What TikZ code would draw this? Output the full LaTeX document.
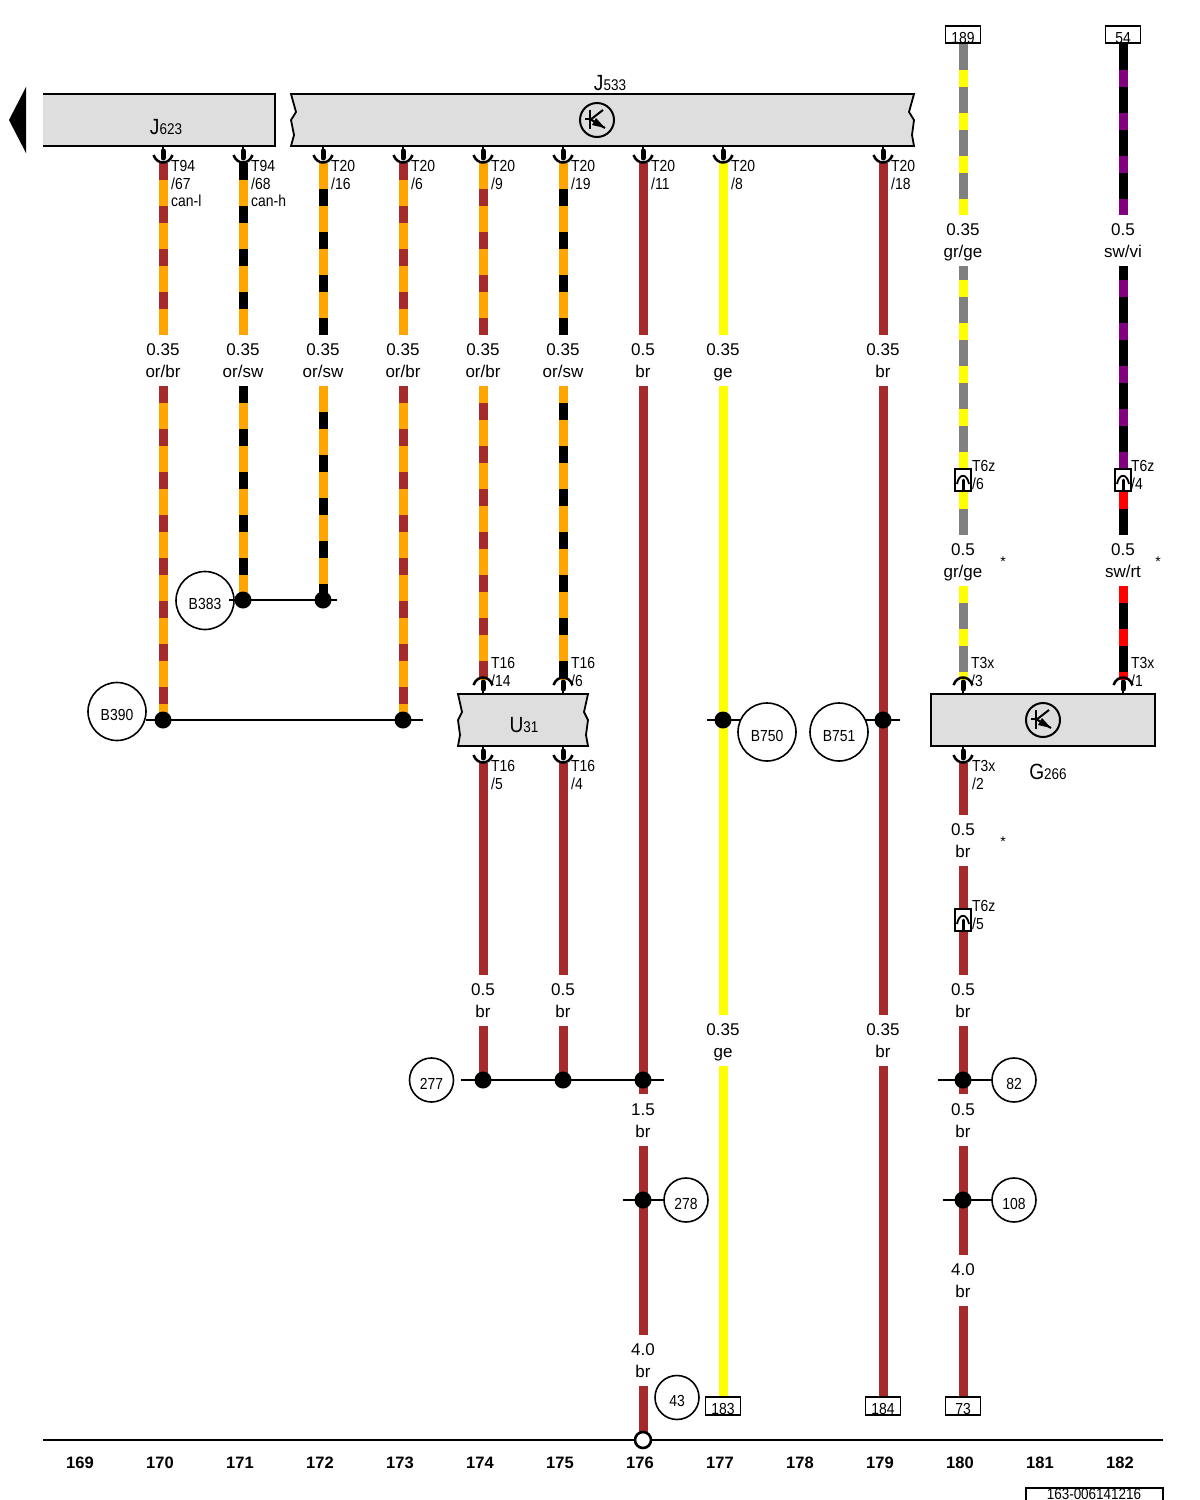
\documentclass[tikz,border=0pt]{standalone}
\usepackage{fontspec}
\setmainfont{Liberation Sans}
\newfontfamily\narrowfont[FakeStretch=0.87]{Liberation Sans}
\definecolor{wireor}{HTML}{FFA500}
\definecolor{wirebr}{HTML}{A52A2A}
\definecolor{wirege}{HTML}{FFFF00}
\definecolor{wiregr}{HTML}{808080}
\definecolor{wirevi}{HTML}{800080}
\definecolor{wirert}{HTML}{FF0000}
\definecolor{boxgray}{HTML}{DEDEDE}
\newcommand{\wl}[2]{\rule{0pt}{18pt}#1\\#2\rule[-6pt]{0pt}{6pt}}
\tikzset{
  wire/.style={line width=9pt},
  orbr/.style={wire, draw=wirebr, dash pattern=on 17pt off 26pt, preaction={wire, draw=wireor, solid}},
  orsw/.style={wire, draw=black, dash pattern=on 17pt off 26pt, preaction={wire, draw=wireor, solid}},
  grge/.style={wire, draw=wirege, dash pattern=on 17pt off 26pt, preaction={wire, draw=wiregr, solid}},
  swvi/.style={wire, draw=wirevi, dash pattern=on 17pt off 26pt, preaction={wire, draw=black, solid}},
  swrt/.style={wire, draw=wirert, dash pattern=on 17pt off 26pt, preaction={wire, draw=black, solid}},
  wirelabel/.style={inner sep=0pt, minimum width=40pt, minimum height=51pt, align=center, font=\fontsize{17}{22}\selectfont},
  pinlabel/.style={inner sep=0pt, anchor=north west, align=left, font=\narrowfont\fontsize{16}{17.3}\selectfont},
  boxlabel/.style={inner sep=0pt, font=\narrowfont\fontsize{22}{22}\selectfont},
  dotnode/.style={circle, fill=black, inner sep=0pt, minimum size=17pt},
  pointer/.style={circle, draw, line width=1.6pt, inner sep=0pt, text height=18.5pt, text depth=0pt, font=\narrowfont\fontsize{16}{16}\selectfont},
  bigpointer/.style={pointer, minimum size=58pt},
  smallpointer/.style={pointer, minimum size=44pt},
  endbox/.style={draw, line width=1.8pt, fill=white, inner xsep=0pt, inner ysep=0pt, minimum width=35pt, text height=17.5pt, text depth=0pt, font=\narrowfont\fontsize{16}{16}\selectfont},
  plugbox/.style={draw, line width=1.8pt, fill=white, inner sep=0pt, minimum width=16pt, minimum height=22pt},
  colnum/.style={inner sep=0pt, font=\bfseries\fontsize{16.5}{16.5}\selectfont},
  starmark/.style={inner sep=0pt, font=\fontsize{14}{14}\selectfont},
  stub/.style={line width=1.6pt},
  ecuframe/.style={line width=1.8pt, fill=boxgray},
  pin/.pic={
    \draw[line width=1.5pt] (0,0) -- (0,4);
    \draw[line width=5pt, line cap=round] (0,5) -- (0,12);
    \draw[line width=2.5pt] (-9.5,9) .. controls (-6,19) and (6,19) .. (9.5,9);
  },
  plugpin/.pic={
    \draw[line width=3pt, line cap=round] (0,-11) -- (0,-1);
    \draw[line width=1.8pt] (-6,-7) .. controls (-4,-18) and (4,-18) .. (6,-7);
  },
  sensor/.pic={
    \draw[line width=2pt] (0,0) circle (17);
    \draw[line width=2pt] (-7,-10) -- (-7,9);
    \draw[line width=2pt] (-12,-1) -- (-7,-1);
    \draw[line width=2pt] (-7,0) -- (6,-10);
    \draw[line width=2pt] (-7,-1) -- (8,8);
    \fill (8,8) -- (-5,5) -- (-1,-2) -- cycle;
  },
}
\begin{document}
\begin{tikzpicture}[x=1pt, y=-1pt]
\useasboundingbox (0,0) rectangle (1200,1500);
% control units
\fill[black] (9,120) -- (26,87) -- (26,153) -- cycle;
\fill[boxgray] (43,94) rectangle (275,146);
\draw[line width=1.8pt] (43,94) -- (275,94) -- (275,146) -- (43,146);
\draw[ecuframe] (291,94) -- (914,94) -- (909,112) -- (914,120) -- (912,135) -- (914,146) -- (291,146) -- (294,135) -- (291,120) -- (296,112) -- cycle;
\draw[ecuframe] (458,694) -- (588,694) -- (584,712) -- (588,720) -- (586,735) -- (588,746) -- (458,746) -- (460,735) -- (458,720) -- (462,712) -- cycle;
\draw[ecuframe] (931,694) rectangle (1155,746);
\node[boxlabel] (j623) at (166,127) {J{\fontsize{15.5}{15.5}\selectfont 623}};
\node[boxlabel] (j533) at (610,83) {J{\fontsize{15.5}{15.5}\selectfont 533}};
\node[boxlabel] (u31) at (524,725) {U{\fontsize{15.5}{15.5}\selectfont 31}};
\node[boxlabel] (g266) at (1048,772) {G{\fontsize{15.5}{15.5}\selectfont 266}};
\pic at (597,120) {sensor};
\pic at (1043,720) {sensor};
% wire colour and size labels
\node[wirelabel] (l170) at (163,360.5) {\wl{0.35}{or/br}};
\node[wirelabel] (l171) at (243,360.5) {\wl{0.35}{or/sw}};
\node[wirelabel] (l172) at (323,360.5) {\wl{0.35}{or/sw}};
\node[wirelabel] (l173) at (403,360.5) {\wl{0.35}{or/br}};
\node[wirelabel] (l174) at (483,360.5) {\wl{0.35}{or/br}};
\node[wirelabel] (l175) at (563,360.5) {\wl{0.35}{or/sw}};
\node[wirelabel] (l176) at (643,360.5) {\wl{0.5}{br}};
\node[wirelabel] (l177) at (723,360.5) {\wl{0.35}{ge}};
\node[wirelabel] (l179) at (883,360.5) {\wl{0.35}{br}};
\node[wirelabel] (l174b) at (483,1000.5) {\wl{0.5}{br}};
\node[wirelabel] (l175b) at (563,1000.5) {\wl{0.5}{br}};
\node[wirelabel] (l176b) at (643,1120.5) {\wl{1.5}{br}};
\node[wirelabel] (l176c) at (643,1360.5) {\wl{4.0}{br}};
\node[wirelabel] (l177b) at (723,1040.5) {\wl{0.35}{ge}};
\node[wirelabel] (l179b) at (883,1040.5) {\wl{0.35}{br}};
\node[wirelabel] (l180a) at (963,240.5) {\wl{0.35}{gr/ge}};
\node[wirelabel] (l180b) at (963,560.5) {\wl{0.5}{gr/ge}};
\node[wirelabel] (l180c) at (963,840.5) {\wl{0.5}{br}};
\node[wirelabel] (l180d) at (963,1000.5) {\wl{0.5}{br}};
\node[wirelabel] (l180e) at (963,1120.5) {\wl{0.5}{br}};
\node[wirelabel] (l180f) at (963,1280.5) {\wl{4.0}{br}};
\node[wirelabel] (l182a) at (1123,240.5) {\wl{0.5}{sw/vi}};
\node[wirelabel] (l182b) at (1123,560.5) {\wl{0.5}{sw/rt}};
% end boxes
\node[endbox] (e189) at (963,34.5) {189};
\node[endbox] (e54) at (1123,34.5) {54};
\node[endbox] (e183) at (723,1406) {183};
\node[endbox] (e184) at (883,1406) {184};
\node[endbox] (e73) at (963,1406) {73};
\node[plugbox] (s180a) at (963,480) {};
\node[plugbox] (s182a) at (1123,480) {};
\node[plugbox] (s180b) at (963,920) {};
% wire ends and junctions
\coordinate (t170) at (163,163);
\coordinate (t171) at (243,163);
\coordinate (t172) at (323,163);
\coordinate (t173) at (403,163);
\coordinate (t174) at (483,163);
\coordinate (t175) at (563,163);
\coordinate (t176) at (643,163);
\coordinate (t177) at (723,163);
\coordinate (t179) at (883,163);
\coordinate (u174) at (483,680);
\coordinate (u175) at (563,680);
\coordinate (u180) at (963,680);
\coordinate (u182) at (1123,680);
\coordinate (v174) at (483,763);
\coordinate (v175) at (563,763);
\coordinate (v180) at (963,763);
\coordinate (m176) at (643,1094);
\coordinate (m180) at (963,1094);
\coordinate (r383a) at (229,600);
\coordinate (r383b) at (337,600);
\coordinate (r390a) at (146,720);
\coordinate (r390b) at (423,720);
\coordinate (r750a) at (707,720);
\coordinate (r750b) at (741,720);
\coordinate (r751a) at (866,720);
\coordinate (r751b) at (900,720);
\coordinate (r277a) at (461,1080);
\coordinate (r277b) at (664,1080);
\coordinate (r278a) at (623,1200);
\coordinate (r278b) at (665,1200);
\coordinate (r82a) at (938,1080);
\coordinate (r82b) at (992,1080);
\coordinate (r108a) at (943,1200);
\coordinate (r108b) at (992,1200);
\coordinate (b1) at (43,1440);
\coordinate (b2) at (1163,1440);
\coordinate (d171) at (243,600);
\coordinate (d172) at (323,600);
\coordinate (d170) at (163,720);
\coordinate (d173) at (403,720);
\coordinate (d177) at (723,720);
\coordinate (d179) at (883,720);
\coordinate (d174) at (483,1080);
\coordinate (d175) at (563,1080);
\coordinate (d176) at (643,1080);
\coordinate (d180) at (963,1080);
\coordinate (d176b) at (643,1200);
\coordinate (d180b) at (963,1200);
\coordinate (g176) at (643,1436);
% upper wires
\draw[orbr] (t170) -- (l170.north);
\draw[orsw] (t171) -- (l171.north);
\draw[orsw, dash phase=17pt] (t172) -- (l172.north);
\draw[orbr] (t173) -- (l173.north);
\draw[orbr, dash phase=17pt] (t174) -- (l174.north);
\draw[orsw, dash phase=17pt] (t175) -- (l175.north);
\draw[wire, wirebr] (t176) -- (l176.north);
\draw[wire, wirege] (t177) -- (l177.north);
\draw[wire, wirebr] (t179) -- (l179.north);
% lower wires
\draw[orbr] (l170.south) -- (d170);
\draw[orsw] (l171.south) -- (d171);
\draw[orsw, dash phase=17pt] (l172.south) -- (d172);
\draw[orbr] (l173.south) -- (d173);
\draw[orbr, dash phase=26pt] (l174.south) -- (u174);
\draw[orsw, dash phase=26pt] (l175.south) -- (u175);
\draw[wire, wirebr] (v174) -- (l174b.north);
\draw[wire, wirebr] (v175) -- (l175b.north);
\draw[wire, wirebr] (l174b.south) -- (d174);
\draw[wire, wirebr] (l175b.south) -- (d175);
\draw[wire, wirebr] (l176.south) -- (m176);
\draw[wire, wirebr] (l176b.south) -- (l176c.north);
\draw[wire, wirebr] (l176c.south) -- (g176);
\draw[wire, wirege] (l177.south) -- (l177b.north);
\draw[wire, wirege] (l177b.south) -- (e183.north);
\draw[wire, wirebr] (l179.south) -- (l179b.north);
\draw[wire, wirebr] (l179b.south) -- (e184.north);
% wires on the right
\draw[grge, dash phase=17pt] (e189.south) -- (l180a.north);
\draw[grge, dash phase=29pt] (l180a.south) -- (s180a.north);
\draw[grge] (s180a.south) -- (l180b.north);
\draw[grge] (l180b.south) -- (u180);
\draw[swvi, dash phase=17pt] (e54.south) -- (l182a.north);
\draw[swvi, dash phase=29pt] (l182a.south) -- (s182a.north);
\draw[swrt] (s182a.south) -- (l182b.north);
\draw[swrt] (l182b.south) -- (u182);
\draw[wire, wirebr] (v180) -- (l180c.north);
\draw[wire, wirebr] (l180c.south) -- (s180b.north);
\draw[wire, wirebr] (s180b.south) -- (l180d.north);
\draw[wire, wirebr] (l180d.south) -- (m180);
\draw[wire, wirebr] (l180e.south) -- (l180f.north);
\draw[wire, wirebr] (l180f.south) -- (e73.north);
% junction rails
\draw[stub] (r383a) -- (r383b);
\draw[stub] (r390a) -- (r390b);
\draw[stub] (r750a) -- (r750b);
\draw[stub] (r751a) -- (r751b);
\draw[stub] (r277a) -- (r277b);
\draw[stub] (r278a) -- (r278b);
\draw[stub] (r82a) -- (r82b);
\draw[stub] (r108a) -- (r108b);
\node[dotnode] (dot171) at (d171) {};
\node[dotnode] (dot172) at (d172) {};
\node[dotnode] (dot170) at (d170) {};
\node[dotnode] (dot173) at (d173) {};
\node[dotnode] (dot177) at (d177) {};
\node[dotnode] (dot179) at (d179) {};
\node[dotnode] (dot174) at (d174) {};
\node[dotnode] (dot175) at (d175) {};
\node[dotnode] (dot176) at (d176) {};
\node[dotnode] (dot180) at (d180) {};
\node[dotnode] (dot176b) at (d176b) {};
\node[dotnode] (dot180b) at (d180b) {};
% pointers
\node[bigpointer] (b383) at (205,600.5) {B383};
\node[bigpointer] (b390) at (117,711.5) {B390};
\node[bigpointer] (b750) at (767,732) {B750};
\node[bigpointer] (b751) at (839,732) {B751};
\node[smallpointer] (n277) at (431.5,1080) {277};
\node[smallpointer] (n278) at (686,1200) {278};
\node[smallpointer] (n82) at (1014,1080) {82};
\node[smallpointer] (n108) at (1014,1200) {108};
\node[smallpointer] (n43) at (677,1397.5) {43};
% pins
\pic at (163,146) {pin};
\pic at (243,146) {pin};
\pic at (323,146) {pin};
\pic at (403,146) {pin};
\pic at (483,146) {pin};
\pic at (563,146) {pin};
\pic at (643,146) {pin};
\pic at (723,146) {pin};
\pic at (883,146) {pin};
\pic at (483,746) {pin};
\pic at (563,746) {pin};
\pic at (963,746) {pin};
\pic[yscale=-1] at (483,694) {pin};
\pic[yscale=-1] at (563,694) {pin};
\pic[yscale=-1] at (963,694) {pin};
\pic[yscale=-1] at (1123,694) {pin};
\pic at (963,491) {plugpin};
\pic at (1123,491) {plugpin};
\pic at (963,931) {plugpin};
% pin labels
\node[pinlabel] (p170) at (171,160.5) {T94\\/67\\can-l};
\node[pinlabel] (p171) at (251,160.5) {T94\\/68\\can-h};
\node[pinlabel] (p172) at (331,160.5) {T20\\/16};
\node[pinlabel] (p173) at (411,160.5) {T20\\/6};
\node[pinlabel] (p174) at (491,160.5) {T20\\/9};
\node[pinlabel] (p175) at (571,160.5) {T20\\/19};
\node[pinlabel] (p176) at (651,160.5) {T20\\/11};
\node[pinlabel] (p177) at (731,160.5) {T20\\/8};
\node[pinlabel] (p179) at (891,160.5) {T20\\/18};
\node[pinlabel] (p174b) at (491,657.5) {T16\\/14};
\node[pinlabel] (p175b) at (571,657.5) {T16\\/6};
\node[pinlabel] (p174c) at (491,760.5) {T16\\/5};
\node[pinlabel] (p175c) at (571,760.5) {T16\\/4};
\node[pinlabel] (p180a) at (972,460.5) {T6z\\/6};
\node[pinlabel] (p182a) at (1131,460.5) {T6z\\/4};
\node[pinlabel] (p180b) at (971,657.5) {T3x\\/3};
\node[pinlabel] (p182b) at (1131,657.5) {T3x\\/1};
\node[pinlabel] (p180c) at (972,760.5) {T3x\\/2};
\node[pinlabel] (p180d) at (972,900.5) {T6z\\/5};
\node[starmark] (star1) at (1003,562) {*};
\node[starmark] (star2) at (1158,562) {*};
\node[starmark] (star3) at (1003,842) {*};
% baseline and column numbers
\draw[line width=1.8pt] (b1) -- (b2);
\node[circle, draw, line width=2.6pt, fill=white, inner sep=0pt, minimum size=16pt] (g43) at (643,1440) {};
\node[colnum] (c169) at (80,1463) {169};
\node[colnum] (c170) at (160,1463) {170};
\node[colnum] (c171) at (240,1463) {171};
\node[colnum] (c172) at (320,1463) {172};
\node[colnum] (c173) at (400,1463) {173};
\node[colnum] (c174) at (480,1463) {174};
\node[colnum] (c175) at (560,1463) {175};
\node[colnum] (c176) at (640,1463) {176};
\node[colnum] (c177) at (720,1463) {177};
\node[colnum] (c178) at (800,1463) {178};
\node[colnum] (c179) at (880,1463) {179};
\node[colnum] (c180) at (960,1463) {180};
\node[colnum] (c181) at (1040,1463) {181};
\node[colnum] (c182) at (1120,1463) {182};
\draw[line width=1.8pt] (1026,1510) -- (1026,1488) -- (1163,1488) -- (1163,1510);
\node[inner sep=0pt, font=\narrowfont\fontsize{15.5}{15.5}\selectfont] (docnum) at (1094,1494.3) {163-006141216};
\end{tikzpicture}
\end{document}
